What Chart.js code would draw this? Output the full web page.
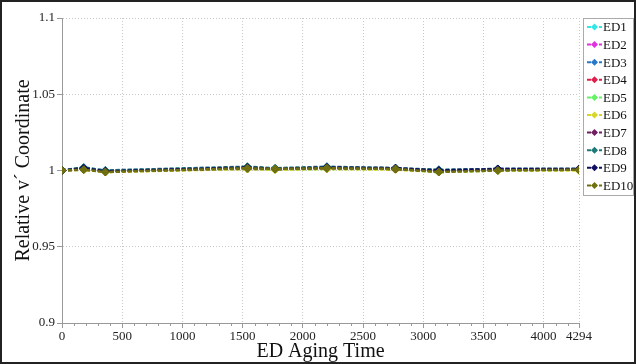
<!DOCTYPE html>
<html>
<head>
<meta charset="utf-8">
<script src="https://cdn.jsdelivr.net/npm/chart.js@4/dist/chart.umd.min.js"></script>
<style>
  body { margin: 0; background: #fff; }
  #wrap { width: 636px; height: 364px; }
</style>
</head>
<body>
<div id="wrap"><canvas id="agingChart" width="636" height="364"></canvas></div>
<script>
// aging time (x) for each measurement
const agingTimes = [0, 180, 360, 1540, 1770, 2200, 2770, 3130, 3620, 4294];
const xTicks = [0, 500, 1000, 1500, 2000, 2500, 3000, 3500, 4000, 4294];
const yTicks = [0.9, 0.95, 1, 1.05, 1.1];

const seriesNames = ["ED1", "ED2", "ED3", "ED4", "ED5", "ED6", "ED7", "ED8", "ED9", "ED10"];
const seriesColors = ["#33e6e6", "#e033e0", "#2a78c8", "#e0204a", "#66f266",
                      "#d6d62a", "#702060", "#207a7a", "#101060", "#707010"];

const ed1  = [1, 1.0015, 0.9995, 1.0015, 1.001, 1.0015, 1.001, 0.9995, 1.0005, 1.0005];
const ed2  = [1, 1.001, 0.9995, 1.001, 1.0005, 1.0015, 1.001, 0.9995, 1.0005, 1.0005];
const ed3  = [1, 1.0015, 1.0, 1.002, 1.001, 1.002, 1.0015, 1.0, 1.001, 1.001];
const ed4  = [1, 1.001, 0.9995, 1.0015, 1.001, 1.0015, 1.001, 0.9995, 1.0005, 1.0005];
const ed5  = [1, 1.001, 0.9995, 1.001, 1.0005, 1.001, 1.001, 0.999, 1.0, 1.0005];
const ed6  = [1, 1.0005, 0.999, 1.001, 1.0005, 1.001, 1.0005, 0.999, 1.0, 1.0];
const ed7  = [1, 1.001, 0.9995, 1.0015, 1.001, 1.0015, 1.001, 0.9995, 1.0005, 1.0005];
const ed8  = [1, 1.002, 1.0, 1.0025, 1.0015, 1.0025, 1.0015, 1.0005, 1.001, 1.001];
const ed9  = [1, 1.0015, 0.9995, 1.002, 1.001, 1.002, 1.0015, 1.0, 1.001, 1.001];
const ed10 = [1, 1.0005, 0.999, 1.0015, 1.001, 1.0015, 1.001, 0.999, 1.0, 1.0005];
const seriesValues = [ed1, ed2, ed3, ed4, ed5, ed6, ed7, ed8, ed9, ed10];

const serif = "'Liberation Serif', 'Times New Roman', serif";

const datasets = seriesNames.map((name, i) => ({
    label: name,
    data: agingTimes.map((t, k) => ({ x: t, y: seriesValues[i][k] })),
    borderColor: seriesColors[i],
    backgroundColor: seriesColors[i],
    borderWidth: 2.5,
    borderDash: [4, 2],
    pointStyle: "rectRot",
    pointRadius: 4,
    pointBorderWidth: 1,
    order: seriesNames.length - i,
    tension: 0
}));

// minor ticks, outer frame and boxed legend
const extras = {
    id: "extras",
    afterDraw(chart) {
        const ctx = chart.ctx;
        const xs = chart.scales.x;
        const bottom = chart.chartArea.bottom;
        ctx.save();
        ctx.strokeStyle = "#999";
        ctx.lineWidth = 1;
        for (let v = 100; v < 4294; v += 100) {
            if (v % 500 === 0) continue;
            const px = Math.round(xs.getPixelForValue(v)) + 0.5;
            ctx.beginPath();
            ctx.moveTo(px, bottom);
            ctx.lineTo(px, bottom + 3);
            ctx.stroke();
        }

        // legend
        const lx = 583, ly = 18, lw = 50, lh = 177;
        ctx.fillStyle = "#fff";
        ctx.fillRect(lx, ly, lw, lh);
        ctx.strokeStyle = "#aaa";
        ctx.strokeRect(lx + 0.5, ly + 0.5, lw, lh);
        ctx.font = "13px " + serif;
        ctx.textBaseline = "middle";
        chart.data.datasets.forEach((ds, i) => {
            const cy = ly + 9 + i * 17.6;
            ctx.strokeStyle = ds.borderColor;
            ctx.lineWidth = 2;
            ctx.setLineDash([4, 2]);
            ctx.beginPath();
            ctx.moveTo(587, cy);
            ctx.lineTo(602, cy);
            ctx.stroke();
            ctx.setLineDash([]);
            ctx.fillStyle = ds.borderColor;
            ctx.beginPath();
            ctx.moveTo(594.5, cy - 3.5);
            ctx.lineTo(598, cy);
            ctx.lineTo(594.5, cy + 3.5);
            ctx.lineTo(591, cy);
            ctx.closePath();
            ctx.fill();
            ctx.fillStyle = "#111";
            ctx.fillText(ds.label, 603, cy + 1);
        });

        // outer frame
        ctx.strokeStyle = "#222";
        ctx.lineWidth = 2;
        ctx.strokeRect(1, 1, 634, 362);
        ctx.restore();
    }
};

new Chart(document.getElementById("agingChart").getContext("2d"), {
    type: "line",
    data: { datasets: datasets },
    options: {
        responsive: false,
        animation: false,
        layout: { padding: { top: 18, right: 57, bottom: 0, left: 0 } },
        plugins: { legend: { display: false }, tooltip: { enabled: false } },
        scales: {
            x: {
                type: "linear",
                min: 0,
                max: 4294,
                afterBuildTicks: scale => { scale.ticks = xTicks.map(v => ({ value: v })); },
                afterFit: scale => { scale.height = 41; },
                ticks: { color: "#222", font: { family: serif, size: 13 }, padding: 1, maxRotation: 0,
                         callback: v => String(v) },
                grid: { color: "#c8c8c8", tickColor: "#999", tickLength: 5, lineWidth: 1 },
                border: { color: "#999", dash: [1, 2] },
                title: { display: true, text: "ED Aging Time", color: "#111",
                         font: { family: serif, size: 20 }, padding: { top: 0, bottom: 0 } }
            },
            y: {
                min: 0.9,
                max: 1.1,
                afterBuildTicks: scale => { scale.ticks = yTicks.map(v => ({ value: v })); },
                afterFit: scale => { scale.width = 62; },
                ticks: { color: "#222", font: { family: serif, size: 13 }, padding: 2,
                         callback: v => String(+v.toFixed(2)) },
                grid: { color: "#c8c8c8", tickColor: "#999", tickLength: 5 },
                border: { color: "#999", dash: [1, 2] },
                title: { display: true, text: "Relative v´ Coordinate", color: "#111",
                         font: { family: serif, size: 20 }, padding: { top: 12, bottom: 0 } }
            }
        }
    },
    plugins: [extras]
});
</script>
</body>
</html>
